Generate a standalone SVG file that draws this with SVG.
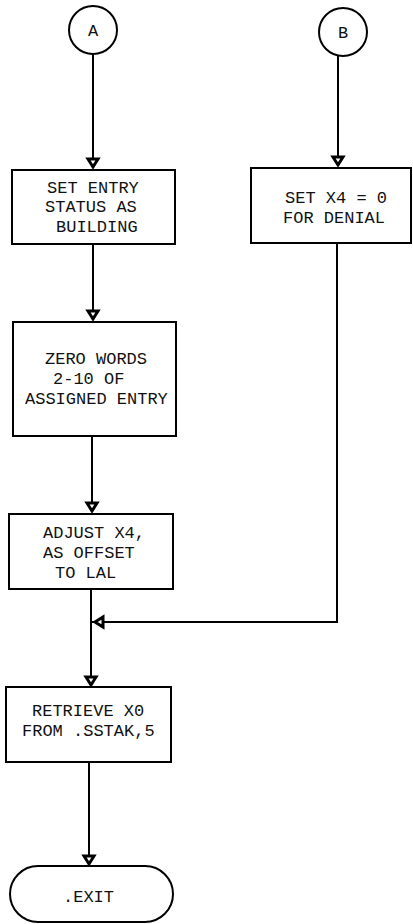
<svg xmlns="http://www.w3.org/2000/svg" width="413" height="924" viewBox="0 0 413 924">
<style>
.s{fill:none;stroke:#000;stroke-width:2}
.b{fill:#fff;stroke:#000;stroke-width:2}
.t{font-family:"Liberation Mono","Courier New",monospace;font-size:17px;fill:#111}
.ah{fill:#fff;stroke:#000;stroke-width:3;stroke-linejoin:miter}
</style>
<rect width="413" height="924" fill="#fff"/>
<g id="connectors">
<line class="s" x1="93" y1="54" x2="93" y2="160"/>
<polygon class="ah" points="88,159 98,159 93,167"/>
<line class="s" x1="338" y1="55" x2="338" y2="158"/>
<polygon class="ah" points="333,157 343,157 338,165"/>
<line class="s" x1="93" y1="244" x2="93" y2="312"/>
<polygon class="ah" points="88,311 98,311 93,319"/>
<line class="s" x1="92" y1="436" x2="92" y2="504"/>
<polygon class="ah" points="87,503 97,503 92,511"/>
<polyline class="s" points="337,243 337,622 92,622"/>
<polygon class="ah" points="95,622 103,617 103,627"/>
<line class="s" x1="91" y1="589" x2="91" y2="678"/>
<polygon class="ah" points="86,677 96,677 91,685"/>
<line class="s" x1="89" y1="762" x2="89" y2="857"/>
<polygon class="ah" points="84,856 94,856 89,864"/>
</g>
<g id="A">
<circle class="b" cx="93" cy="30" r="24"/>
<text class="t" x="93" y="36" text-anchor="middle">A</text>
</g>
<g id="B">
<circle class="b" cx="343" cy="32" r="24"/>
<text class="t" x="343" y="38" text-anchor="middle">B</text>
</g>
<g id="setEntry">
<rect class="b" x="12" y="170" width="163" height="74"/>
<text class="t" x="47" y="193">SET ENTRY</text>
<text class="t" x="45" y="212">STATUS AS</text>
<text class="t" x="56" y="232">BUILDING</text>
</g>
<g id="setX4">
<rect class="b" x="251" y="168" width="160" height="75"/>
<text class="t" x="285" y="203">SET X4 = 0</text>
<text class="t" x="283" y="223">FOR DENIAL</text>
</g>
<g id="zeroWords">
<rect class="b" x="13" y="322" width="163" height="114"/>
<text class="t" x="45" y="364">ZERO WORDS</text>
<text class="t" x="53" y="384">2-10 OF</text>
<text class="t" x="25" y="404">ASSIGNED ENTRY</text>
</g>
<g id="adjustX4">
<rect class="b" x="9" y="514" width="164" height="75"/>
<text class="t" x="43" y="538">ADJUST X4,</text>
<text class="t" x="43" y="558">AS OFFSET</text>
<text class="t" x="55" y="578">TO LAL</text>
</g>
<g id="retrieve">
<rect class="b" x="6" y="687" width="165" height="75"/>
<text class="t" x="32" y="716">RETRIEVE X0</text>
<text class="t" x="22" y="736">FROM .SSTAK,5</text>
</g>
<g id="exit">
<rect class="b" x="10" y="866" width="163" height="56" rx="28" ry="28"/>
<text class="t" x="63" y="902">.EXIT</text>
</g>
</svg>
